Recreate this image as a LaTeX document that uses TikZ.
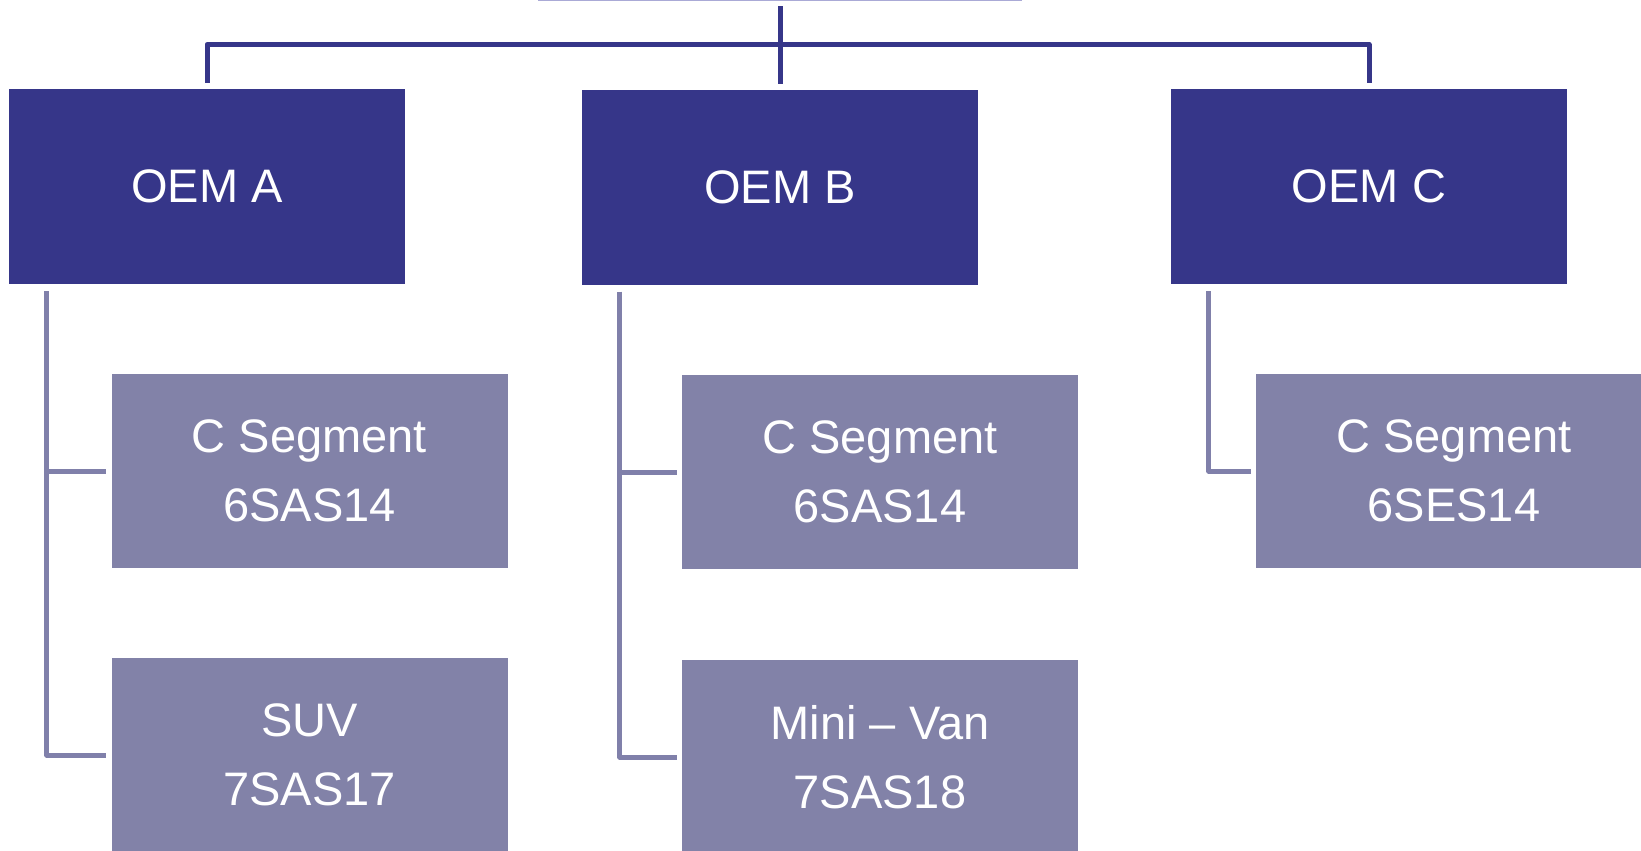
\documentclass[tikz,border=0pt]{standalone}
\usepackage{fontspec}
\setmainfont{Liberation Sans}
\definecolor{oemfill}{RGB}{54,54,137}
\definecolor{segfill}{RGB}{130,130,168}
\definecolor{subline}{RGB}{128,128,170}
\definecolor{rootfill}{RGB}{170,170,214}
\tikzset{
  oembox/.style={rectangle, fill=oemfill, text=white, minimum width=396pt, minimum height=195pt, inner sep=0pt, align=center, font=\fontsize{47}{69}\selectfont},
  segbox/.style={rectangle, fill=segfill, text=white, minimum width=396pt, minimum height=194pt, inner sep=0pt, align=center, font=\fontsize{47}{69}\selectfont},
  rootbox/.style={rectangle, fill=rootfill, minimum width=484pt, minimum height=200pt, inner sep=0pt},
  trunk/.style={draw=oemfill, line width=5pt, line join=round},
  subconn/.style={draw=subline, line width=5pt, line join=round}
}
\begin{document}
\begin{tikzpicture}[x=1pt,y=-1pt]
\clip (0,0) rectangle (1641,851);
\fill[white] (0,0) rectangle (1641,851);
\coordinate (bar) at (0,44.5);
% root (only its lower edge is visible)
\node[rootbox] (root) at (780,-98.5) {};
% OEM level
\node[oembox] (A) at (207,186.5) {OEM A};
\node[oembox] (B) at (780,187) {OEM B};
\node[oembox] (C) at (1369,186.5) {OEM C};
% segment level
\node[segbox] (A1) at (309.5,471) {C Segment\\6SAS14};
\node[segbox] (A2) at (309.5,755) {SUV\\7SAS17};
\node[segbox] (B1) at (880,472) {C Segment\\6SAS14};
\node[segbox] (B2) at (880,757) {Mini – Van\\7SAS18};
\node[segbox] (C1) at (1454,471) {C Segment\\6SES14};
% top connectors
\draw[trunk] ([yshift=-4.5pt]root.south) -- ([yshift=5pt]B.north);
\draw[trunk] ([yshift=6pt]A.north) -- (A.north |- bar) -- (C.north |- bar) -- ([yshift=6pt]C.north);
% OEM A children
\coordinate (ta) at ([shift={(38pt,-7pt)}]A.south west);
\draw[subconn] (ta) |- ([xshift=-5pt]A2.west);
\draw[subconn] (ta |- A1.west) -- ([xshift=-5pt]A1.west);
% OEM B children
\coordinate (tb) at ([shift={(38pt,-7pt)}]B.south west);
\draw[subconn] (tb) |- ([xshift=-5pt]B2.west);
\draw[subconn] (tb |- B1.west) -- ([xshift=-5pt]B1.west);
% OEM C child
\coordinate (tc) at ([shift={(38pt,-7pt)}]C.south west);
\draw[subconn] (tc) |- ([xshift=-5pt]C1.west);
\end{tikzpicture}
\end{document}
